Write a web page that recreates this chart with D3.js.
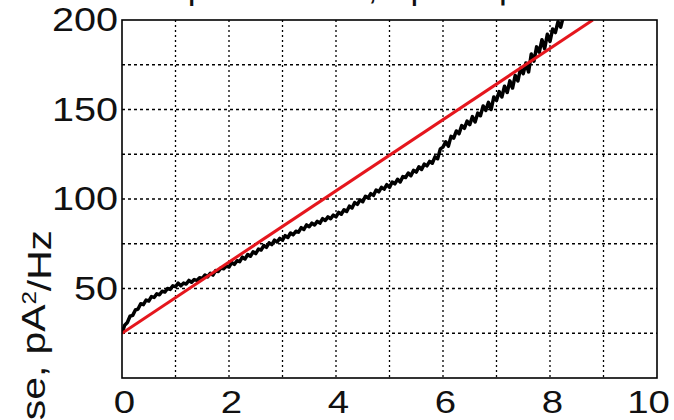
<!DOCTYPE html>
<html>
<head>
<meta charset="utf-8">
<script src="https://cdn.jsdelivr.net/npm/d3@7"></script>
<style>
  body { margin: 0; background: #fff; }
  text { font-family: "Liberation Sans", Arial, sans-serif; fill: #111; }
</style>
</head>
<body>
<script>
// measured noise curve (x in arbitrary units, y in pA^2/Hz)
let curveX = [0, 0.05, 0.1, 0.15, 0.2, 0.25, 0.3, 0.35, 0.4, 0.45, 0.5, 0.55, 0.6, 0.65, 0.7, 0.75, 0.8, 0.85, 0.9, 0.95,
              1.0, 1.05, 1.1, 1.15, 1.2, 1.25, 1.3, 1.35, 1.4, 1.45, 1.5, 1.55, 1.6, 1.65, 1.7, 1.75, 1.8, 1.85, 1.9, 1.95,
              2.0, 2.05, 2.1, 2.15, 2.2, 2.25, 2.3, 2.35, 2.4, 2.45, 2.5, 2.55, 2.6, 2.65, 2.7, 2.75, 2.8, 2.85, 2.9, 2.95,
              3.0, 3.05, 3.1, 3.15, 3.2, 3.25, 3.3, 3.35, 3.4, 3.45, 3.5, 3.55, 3.6, 3.65, 3.7, 3.75, 3.8, 3.85, 3.9, 3.95,
              4.0, 4.05, 4.1, 4.15, 4.2, 4.25, 4.3, 4.35, 4.4, 4.45, 4.5, 4.55, 4.6, 4.65, 4.7, 4.75, 4.8, 4.85, 4.9, 4.95,
              5.0, 5.05, 5.1, 5.15, 5.2, 5.25, 5.3, 5.35, 5.4, 5.45, 5.5, 5.55, 5.6, 5.65, 5.7, 5.75, 5.8, 5.85, 5.9, 5.95,
              6.0, 6.05, 6.1, 6.15, 6.2, 6.25, 6.3, 6.35, 6.4, 6.45, 6.5, 6.55, 6.6, 6.65, 6.7, 6.75, 6.8, 6.85, 6.9, 6.95,
              7.0, 7.05, 7.1, 7.15, 7.2, 7.25, 7.3, 7.35, 7.4, 7.45, 7.5, 7.55, 7.6, 7.65, 7.7, 7.75, 7.8, 7.85, 7.9, 7.95,
              8.0, 8.05, 8.1, 8.15, 8.2, 8.25, 8.3]
let curveY = [25, 29.5, 31, 34.5, 35, 38, 38.5, 41.5, 41, 43.5, 43, 45.5, 45, 47, 46.5, 48.5, 48, 50, 49.5, 51.5,
              51, 53, 51.5, 53, 52.5, 54.5, 53.5, 55, 54.5, 56, 55.5, 57.5, 56.5, 58.5, 57.5, 60, 59.5, 61.5, 61, 62.5,
              62, 64.5, 63.5, 65.5, 65, 67.5, 66.5, 69, 68, 70.5, 69.5, 72, 71.5, 74, 73, 75.5, 74.5, 77, 76, 78,
              77, 79.5, 78.5, 81, 80, 82, 81.5, 84, 83, 85.5, 84.5, 86.5, 85.5, 87.5, 86.5, 89, 88, 90, 89, 91,
              90, 92.5, 91.5, 94, 93, 96, 95, 98, 97, 99.5, 98.5, 101.5, 100.5, 103, 102, 105, 104, 106.5, 105.5, 108,
              106.5, 109.5, 108.5, 111, 109.5, 112.5, 112, 114.5, 113, 116, 115, 118, 116.5, 119.5, 118.5, 121, 120, 123.5, 122.5, 128,
              129, 132, 129.5, 135, 134, 138, 136.5, 141, 139.5, 143.5, 141.5, 146, 143, 148, 146.5, 152, 149.5, 154, 150, 157,
              155, 160, 157, 163, 159.5, 166, 162, 169, 166, 173, 170, 176, 171, 181, 177, 185, 182, 189, 184, 192,
              188, 195, 193, 199, 196, 202, 204]

// linear fit
let fitX = [0, 8.8]
let fitY = [25, 200]

let xTicks = [0, 2, 4, 6, 8, 10]
let yTicks = [50, 100, 150, 200]
let xGrid = [1, 2, 3, 4, 5, 6, 7, 8, 9]
let yGrid = [25, 50, 75, 100, 125, 150, 175]

let titleText = "Ip = 0.35 nA, Vp = 5 μV"

let width = 674
let height = 420
let padL = 122, padR = 657, padT = 20, padB = 378
let stretch = 1.2

let svg = d3.select("body")
            .append("svg")
            .attr("width", width)
            .attr("height", height)

let xScale = d3.scaleLinear().domain([0, 10]).range([padL, padR])
let yScale = d3.scaleLinear().domain([0, 200]).range([padB, padT])

svg.append("clipPath")
    .attr("id", "plotclip")
    .append("rect")
    .attr("x", padL)
    .attr("y", padT)
    .attr("width", padR - padL)
    .attr("height", padB - padT)

// grid
svg.selectAll(".vgrid")
    .data(xGrid)
    .enter()
    .append("line")
    .attr("x1", d => xScale(d))
    .attr("x2", d => xScale(d))
    .attr("y1", padT)
    .attr("y2", padB)
    .attr("stroke", "#000")
    .attr("stroke-width", 1.3)
    .attr("stroke-dasharray", "2,3")

svg.selectAll(".hgrid")
    .data(yGrid)
    .enter()
    .append("line")
    .attr("x1", padL)
    .attr("x2", padR)
    .attr("y1", d => yScale(d))
    .attr("y2", d => yScale(d))
    .attr("stroke", "#000")
    .attr("stroke-width", 1.3)
    .attr("stroke-dasharray", "3,3")

// curves
let line = d3.line()
             .x(d => xScale(d[0]))
             .y(d => yScale(d[1]))

let plot = svg.append("g").attr("clip-path", "url(#plotclip)")

plot.append("path")
    .datum(curveX.map((x, i) => [x, curveY[i]]))
    .attr("d", line)
    .attr("fill", "none")
    .attr("stroke", "#000")
    .attr("stroke-width", 3.5)
    .attr("stroke-linejoin", "round")

plot.append("path")
    .datum(fitX.map((x, i) => [x, fitY[i]]))
    .attr("d", line)
    .attr("fill", "none")
    .attr("stroke", "#e5161d")
    .attr("stroke-width", 3)

// frame
svg.append("rect")
    .attr("x", padL)
    .attr("y", padT)
    .attr("width", padR - padL)
    .attr("height", padB - padT)
    .attr("fill", "none")
    .attr("stroke", "#000")
    .attr("stroke-width", 1.6)

// axes
let xAxis = d3.axisBottom(xScale)
              .tickValues(xTicks)
              .tickSize(0)
              .tickPadding(12)

let gx = svg.append("g")
            .attr("transform", "translate(0," + padB + ")")
            .call(xAxis)
gx.select(".domain").remove()
gx.selectAll("text")
    .style("font-size", "32px")
    .attr("fill", "#111")
    .attr("x", d => d == 10 ? -9 / stretch : 2 / stretch)
    .attr("transform", "scale(" + stretch + ",1)")

let yAxis = d3.axisLeft(yScale)
              .tickValues(yTicks)
              .tickSize(0)
              .tickPadding(4)

let gy = svg.append("g")
            .attr("transform", "translate(" + padL + ",0)")
            .call(yAxis)
gy.select(".domain").remove()
gy.selectAll("text")
    .style("font-size", "33px")
    .attr("fill", "#111")
    .attr("x", -4 / stretch)
    .attr("transform", "scale(" + stretch + ",1)")

// y label (partly cut off at the bottom)
let ylab = svg.append("text")
              .attr("transform", "translate(45,230) rotate(-90) scale(" + stretch + ",1)")
              .attr("text-anchor", "end")
              .style("font-size", "34px")
ylab.append("tspan").text("Noise, pA")
ylab.append("tspan").attr("dy", "-0.45em").style("font-size", "20px").text("2")
ylab.append("tspan").attr("dy", "0.45em").text("/Hz")

// title (only descenders visible)
svg.append("text")
    .attr("x", 178)
    .attr("y", -1)
    .style("font-size", "35px")
    .text(titleText)
</script>
</body>
</html>
